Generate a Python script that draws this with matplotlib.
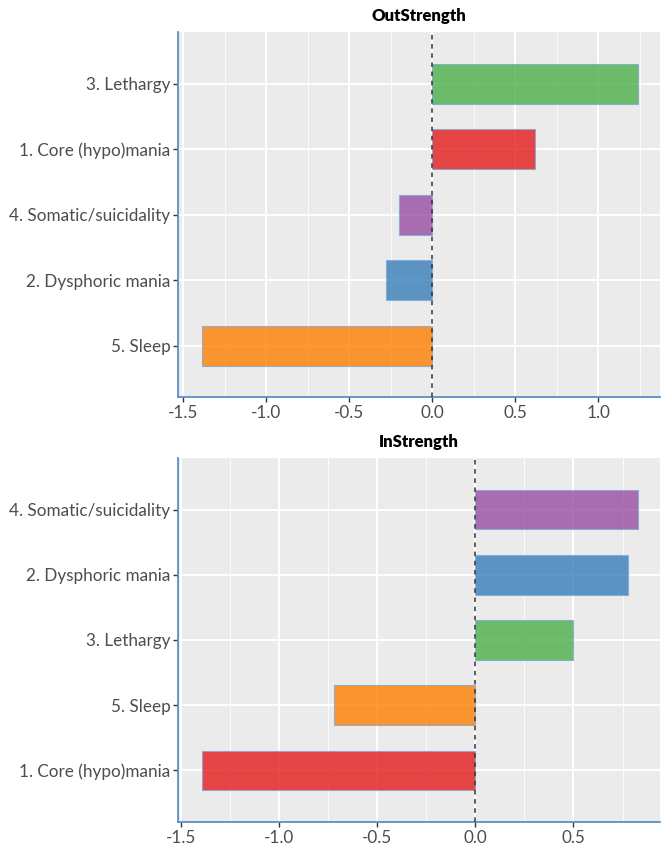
import numpy as np
import matplotlib
matplotlib.use('Agg')
from matplotlib import pyplot as plt
from matplotlib.ticker import MultipleLocator

# 数据 (bottom -> top order)
out_labels = ['5. Sleep', '2. Dysphoric mania', '4. Somatic/suicidality', '1. Core (hypo)mania', '3. Lethargy']
out_values = [-1.39, -0.28, -0.20, 0.62, 1.24]
out_colors = ['#FF7F00', '#377EB8', '#984EA3', '#E41A1C', '#4DAF4A']

in_labels = ['1. Core (hypo)mania', '5. Sleep', '3. Lethargy', '2. Dysphoric mania', '4. Somatic/suicidality']
in_values = [-1.395, -0.72, 0.50, 0.78, 0.83]
in_colors = ['#E41A1C', '#FF7F00', '#4DAF4A', '#377EB8', '#984EA3']

x_ticks = [-1.5, -1.0, -0.5, 0.0, 0.5, 1.0]

plt.rcParams['font.family'] = ['Lato', 'DejaVu Sans']

fig = plt.figure(figsize=(6.63, 8.47), dpi=100)
ax1 = fig.add_axes([0.2685, 0.531, 0.727, 0.431])
ax2 = fig.add_axes([0.2685, 0.0295, 0.727, 0.4298])


def draw_panel(ax, labels, values, colors, title):
    ax.set_facecolor('#EBEBEB')
    y = np.arange(len(labels))
    ax.grid(which='major', color='white', linewidth=1.4, zorder=0.5)
    ax.grid(which='minor', axis='x', color='white', linewidth=0.6, zorder=0.5)
    ax.barh(y, values, height=0.61, color=colors, alpha=0.8,
            edgecolor='#7FA7D4', linewidth=0.8, zorder=2)
    ax.axvline(0, color='#333333', linestyle=(0, (3, 3)), linewidth=1.1, zorder=3)
    lo = min(values)
    hi = max(values)
    pad = (hi - lo) * 0.05
    ax.set_xlim(lo - pad - 0.01, hi + pad)
    ax.set_ylim(-0.79, len(labels) - 0.21)
    ticks = [t for t in x_ticks if lo - pad - 0.02 <= t <= hi + pad]
    ax.set_xticks(ticks)
    ax.set_xticklabels(['%.1f' % t for t in ticks])
    ax.set_yticks(y)
    ax.set_yticklabels(labels)
    ax.xaxis.set_minor_locator(MultipleLocator(0.25))
    ax.set_axisbelow(True)
    for s in ['top', 'right']:
        ax.spines[s].set_visible(False)
    for s in ['left', 'bottom']:
        ax.spines[s].set_color('#5B8FC7')
        ax.spines[s].set_linewidth(1.3)
    ax.tick_params(which='major', length=3.5, width=1, color='#333333',
                   labelsize=12.3, labelcolor='#4D4D4D', pad=2)
    ax.tick_params(which='minor', length=0)
    ax.set_title(title, fontsize=12, fontweight='heavy', pad=8)


draw_panel(ax1, out_labels, out_values, out_colors, 'OutStrength')
draw_panel(ax2, in_labels, in_values, in_colors, 'InStrength')

fig.savefig('out.png', dpi=100)
